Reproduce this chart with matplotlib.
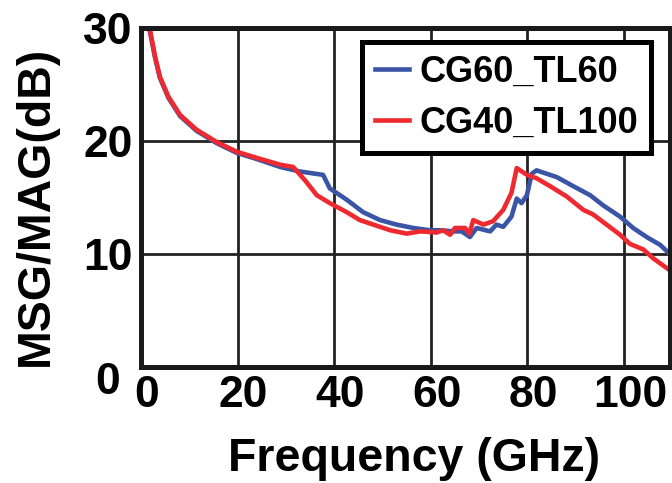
import matplotlib
import matplotlib.pyplot as plt
import matplotlib.transforms as mtransforms

matplotlib.use('Agg')

plt.rcParams['font.family'] = ['Liberation Sans', 'DejaVu Sans']
plt.rcParams['font.weight'] = 'bold'

# MSG/MAG versus frequency, two layouts
freq_cg60 = [1.2, 1.9, 2.9, 3.9, 5.7, 8.1, 11.5, 15.7, 19.8, 24.0, 28.8, 32.9,
             37.7, 39.1, 42.6, 46.0, 49.5, 52.9, 56.4, 59.8, 61.9, 64.7, 66.4,
             68.1, 69.5, 72.3, 73.6, 75.0, 76.7, 77.8, 78.8, 79.9, 80.9, 81.9,
             84.0, 86.1, 89.5, 93.0, 95.7, 99.2, 101.9, 104.7, 107.5, 110.0]
gain_cg60 = [30.6, 29.6, 27.4, 25.6, 23.8, 22.2, 20.9, 19.8, 18.95, 18.4, 17.7,
             17.3, 17.0, 15.8, 14.8, 13.7, 13.0, 12.6, 12.3, 12.1, 12.1, 12.0,
             12.0, 11.5, 12.3, 12.0, 12.6, 12.4, 13.3, 14.9, 14.5, 15.2, 17.1,
             17.4, 17.1, 16.8, 16.0, 15.2, 14.3, 13.3, 12.3, 11.5, 10.8, 9.8]

freq_cg40 = [1.2, 1.9, 2.9, 3.9, 5.7, 8.1, 11.5, 15.7, 19.8, 24.0, 28.8, 31.5,
             34.0, 36.4, 39.1, 42.6, 45.3, 48.1, 51.6, 55.0, 57.8, 61.2, 62.6,
             64.0, 65.0, 67.1, 68.0, 68.8, 70.9, 72.9, 75.0, 76.7, 77.8, 79.9,
             81.9, 84.7, 88.1, 91.6, 93.6, 96.4, 99.2, 101.2, 104.0, 106.1,
             110.0]
gain_cg40 = [30.7, 29.7, 27.5, 25.7, 23.9, 22.3, 21.0, 19.9, 19.05, 18.5, 17.9,
             17.7, 16.5, 15.2, 14.5, 13.7, 13.0, 12.6, 12.1, 11.8, 12.0, 11.9,
             12.1, 11.7, 12.3, 12.3, 11.8, 13.0, 12.6, 12.9, 13.9, 15.4, 17.6,
             17.0, 16.7, 16.0, 15.1, 13.9, 13.5, 12.6, 11.7, 10.9, 10.4, 9.6,
             8.4]

labels = ['CG60_TL60', 'CG40_TL100']
colors = ['#3a55a5', '#ee2a30']

x_ticks = [0, 20, 40, 60, 80, 100]
y_ticks = [0, 10, 20, 30]

fig = plt.figure(figsize=(6.72, 4.83), dpi=100)
ax = fig.add_axes([0.2098, 0.2402, 0.787, 0.7019])

ax.plot(freq_cg60, gain_cg60, color=colors[0], lw=3.3, label=labels[0], zorder=3)
ax.plot(freq_cg40, gain_cg40, color=colors[1], lw=3.3, label=labels[1], zorder=4)

ax.set_xlim(0, 109.5)
ax.set_ylim(0, 30)
ax.set_xticks(x_ticks)
ax.set_yticks(y_ticks)
ax.grid(True, color='#222222', lw=2.0)
ax.set_axisbelow(True)
for sp in ax.spines.values():
    sp.set_linewidth(3.6)
    sp.set_color('#1a1a1a')
    sp.set_zorder(6)

ax.tick_params(length=0, labelsize=32)
ax.tick_params(axis='x', pad=6)
ax.tick_params(axis='y', pad=6)

# labels in the original sit a little right of the grid lines
shift_x = mtransforms.ScaledTranslation(6 / 100, 0, fig.dpi_scale_trans)
for lab in ax.get_xticklabels():
    lab.set_transform(lab.get_transform() + shift_x)
ylab0 = ax.get_yticklabels()[0]
ylab0.set_transform(ylab0.get_transform() +
                    mtransforms.ScaledTranslation(-13 / 100, -11 / 100, fig.dpi_scale_trans))

ax.set_xlabel('Frequency (GHz)', fontsize=33.5, fontweight='bold')
ax.set_ylabel('MSG/MAG(dB)', fontsize=33.5, fontweight='bold')
ax.xaxis.set_label_coords(0.517, -0.207)
ax.yaxis.set_label_coords(-0.157, 0.476)

leg = ax.legend(loc='upper left', bbox_to_anchor=(0.418, 0.959),
                borderaxespad=0, fancybox=False, framealpha=1,
                handlelength=0.95, handletextpad=0.3, labelspacing=0.45,
                borderpad=0.35, prop={'weight': 'bold', 'size': 26})
leg.get_frame().set_edgecolor('black')
leg.get_frame().set_linewidth(3.6)
leg.set_zorder(7)

fig.savefig('out.png', dpi=100)
